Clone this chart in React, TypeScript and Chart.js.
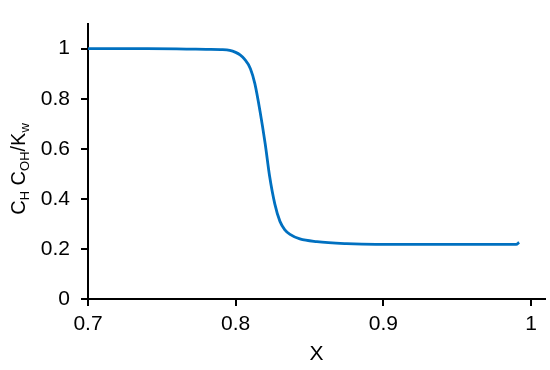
import React, { useEffect, useRef } from "react";
import { Chart, registerables } from "chart.js";

Chart.register(...registerables);

const xValues = [
  0.7, 0.72, 0.74, 0.76, 0.77, 0.78, 0.79, 0.796, 0.8, 0.803, 0.806, 0.81,
  0.813, 0.8165, 0.82, 0.823, 0.8265, 0.83, 0.8335, 0.8368, 0.8435, 0.855,
  0.875, 0.895, 0.93, 0.96, 0.99, 0.992,
];
const yValues = [
  1.0, 1.0, 1.0, 0.999, 0.998, 0.997, 0.996, 0.993, 0.985, 0.975, 0.958, 0.92,
  0.86, 0.75, 0.62, 0.49, 0.38, 0.31, 0.275, 0.258, 0.24, 0.229, 0.221, 0.218,
  0.218, 0.218, 0.218, 0.226,
];
const xTicks = [0.7, 0.8, 0.9, 1];
const yTicks = [0, 0.2, 0.4, 0.6, 0.8, 1];
const xTitle = "X";
const yTitleParts: [string, boolean][] = [
  ["C", false],
  ["H", true],
  [" C", false],
  ["OH", true],
  ["/K", false],
  ["w", true],
];

const FONT = "'Liberation Sans', Arial, sans-serif";

const yTitlePlugin = {
  id: "yTitleSub",
  afterDraw(chart: any) {
    const ctx = chart.ctx;
    const mainSize = 20;
    const subSize = 13;
    ctx.save();
    let total = 0;
    const widths = yTitleParts.map(([t, sub]) => {
      ctx.font = `${sub ? subSize : mainSize}px ${FONT}`;
      const w = ctx.measureText(t).width;
      total += w;
      return w;
    });
    const cx = 25;
    const cy = 169;
    ctx.translate(cx, cy);
    ctx.rotate(-Math.PI / 2);
    ctx.fillStyle = "#000";
    ctx.textBaseline = "alphabetic";
    ctx.textAlign = "left";
    let x = -total / 2;
    yTitleParts.forEach(([t, sub], i) => {
      ctx.font = `${sub ? subSize : mainSize}px ${FONT}`;
      ctx.fillText(t, x, sub ? 4 : 0);
      x += widths[i];
    });
    ctx.restore();
  },
};

export default function App() {
  const ref = useRef<HTMLCanvasElement | null>(null);
  useEffect(() => {
    document.body.style.margin = "0";
    const canvas = ref.current;
    if (!canvas) return;
    const chart = new Chart(canvas, {
      type: "line",
      data: {
        datasets: [
          {
            data: xValues.map((x, i) => ({ x, y: yValues[i] })),
            borderColor: "#0070C0",
            borderWidth: 2.8,
            pointRadius: 0,
            cubicInterpolationMode: "monotone",
            fill: false,
          },
        ],
      },
      options: {
        animation: false,
        responsive: false,
        maintainAspectRatio: false,
        layout: { padding: { left: 0, right: 5, top: 8, bottom: 0 } },
        plugins: {
          legend: { display: false },
          tooltip: { enabled: false },
        },
        scales: {
          x: {
            type: "linear",
            min: 0.7,
            max: 1.0095,
            afterFit: (s: any) => {
              s.height = 71;
            },
            afterBuildTicks: (s: any) => {
              s.ticks = xTicks.map((v) => ({ value: v }));
            },
            ticks: {
              color: "#000",
              font: { family: FONT, size: 21 },
              padding: 6,
              maxRotation: 0,
              callback: (v: any) => String(Math.round(Number(v) * 10) / 10),
            },
            grid: {
              drawOnChartArea: false,
              drawTicks: true,
              tickLength: 7,
              color: "#000",
              lineWidth: 2,
            },
            border: { color: "#000", width: 2 },
            title: {
              display: true,
              text: xTitle,
              color: "#000",
              font: { family: FONT, size: 21 },
              padding: { top: 2, bottom: 3 },
            },
          },
          y: {
            type: "linear",
            min: 0,
            max: 1.1,
            afterFit: (s: any) => {
              s.width = 88;
            },
            afterBuildTicks: (s: any) => {
              s.ticks = yTicks.map((v) => ({ value: v }));
            },
            ticks: {
              color: "#000",
              font: { family: FONT, size: 21 },
              padding: 11,
              callback: (v: any) => String(Math.round(Number(v) * 10) / 10),
            },
            grid: {
              drawOnChartArea: false,
              drawTicks: true,
              tickLength: 7,
              color: "#000",
              lineWidth: 2,
            },
            border: { color: "#000", width: 2 },
          },
        },
      },
      plugins: [yTitlePlugin],
    } as any);
    return () => chart.destroy();
  }, []);
  return (
    <div style={{ position: "absolute", left: 0, top: 0, width: 550, height: 370, background: "#fff" }}>
      <canvas ref={ref} width={550} height={370} style={{ width: 550, height: 370 }} />
    </div>
  );
}
